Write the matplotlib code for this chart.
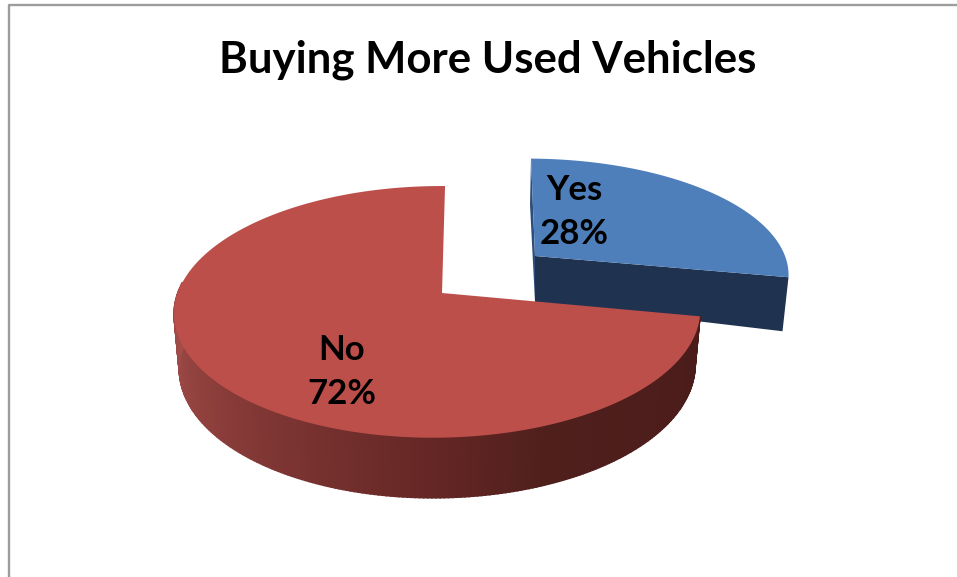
import numpy as np
import matplotlib
matplotlib.use("Agg")
import matplotlib.pyplot as plt
from matplotlib.colors import LinearSegmentedColormap
from matplotlib.lines import Line2D

title = "Buying More Used Vehicles"
labels = ["Yes", "No"]
values = [28, 72]

top_colors = ["#4E7FBA", "#BD4F4B"]
dark_blue = "#1F3350"
sliver_blue = "#2D4E7C"
side_cmap = LinearSegmentedColormap.from_list(
    "side", [(0, "#A8524F"), (0.25, "#8F403D"), (0.55, "#652725"), (0.68, "#4F1F1C"), (1, "#4A1C1A")])

plt.rcParams['font.family'] = ['Lato', 'DejaVu Sans']


# tilted circle with some perspective, angle runs clockwise from the top
def project(t, cx, cy, a, h, shear):
    u, v = np.sin(t), np.cos(t)
    w = 1 + 0.15 * v + 0.016 * u
    return cx + (a * u + shear * v) / w, cy - h * v / w


# bottom rim of the slice, a bit narrower and thicker towards the viewer
def lower_rim(x, y, t, mid, thick):
    return mid + (x - mid) * 0.98, y + thick - 6 * np.cos(t)


def wedge_outline(start, end, cx, cy, a, h, shear):
    t = np.linspace(start, end, 200)
    x, y = project(t, cx, cy, a, h, shear)
    return np.r_[cx, x], np.r_[cy, y]


fig = plt.figure(figsize=(9.57, 5.77), dpi=100)
ax = fig.add_axes([0, 0, 1, 1])
ax.set_xlim(0, 957)
ax.set_ylim(577, 0)
ax.axis("off")

# chart border, only top and left are in frame
ax.add_line(Line2D([957, 9, 9], [5.3, 5.3, 577], color="#9C9C9C", lw=1.7))

ax.text(488, 60, title, ha="center", va="center", fontsize=31.5, fontweight="bold", color="black")

# slice angles come from the values
angles = np.cumsum([0] + values) / sum(values) * 2 * np.pi
yes_start, yes_end = angles[0], angles[1]
no_start, no_end = angles[1], angles[2]

# Yes slice, pulled out of the pie
blue = dict(cx=535, cy=256, a=254, h=112, shear=-4.6)
x0, y0 = project(yes_start, **blue)
x1, y1 = project(yes_end, **blue)
ax.fill([x0, blue["cx"], blue["cx"], x0 - 1], [y0, blue["cy"], blue["cy"] + 46, y0 + 46], color=sliver_blue, lw=0)
ax.fill([blue["cx"], x1, x1 - 6, blue["cx"]], [blue["cy"], y1, y1 + 54, blue["cy"] + 46], color=dark_blue, lw=0)
xs, ys = wedge_outline(yes_start, yes_end, **blue)
ax.fill(xs, ys, color=top_colors[0], lw=0)

# No slice, rim first as thin strips so the shading runs along it
red = dict(cx=442, cy=293, a=260, h=123, shear=3.5)
mid = 437
strips = np.linspace(no_start, np.radians(275), 220)
for t0, t1 in zip(strips[:-1], strips[1:]):
    xa, ya = project(np.array([t0, t1]), **red)
    xb, yb = lower_rim(xa, ya, np.array([t0, t1]), mid, 54)
    shade = 1 - min((t0 + t1) / 2 - no_start, np.pi) / np.pi
    ax.fill([xa[0], xa[1], xb[1], xb[0]], [ya[0], ya[1], yb[1], yb[0]], color=side_cmap(shade), lw=1.2)
xs, ys = wedge_outline(no_start, no_end, **red)
ax.fill(xs, ys, color=top_colors[1], lw=0)

ax.text(574, 212, f"{labels[0]}\n{values[0]}%", ha="center", va="center", fontsize=25, fontweight="bold", linespacing=1.5)
ax.text(342, 372, f"{labels[1]}\n{values[1]}%", ha="center", va="center", fontsize=25, fontweight="bold", linespacing=1.5)

fig.savefig("out.png", dpi=100, facecolor="white")
